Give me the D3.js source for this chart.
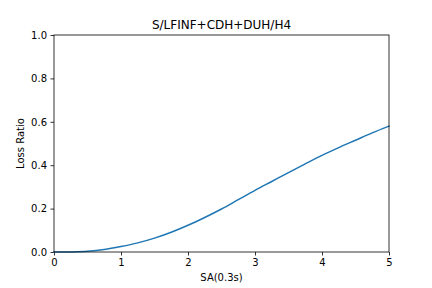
<!DOCTYPE html>
<html><head><meta charset="utf-8">
<script src="https://cdn.jsdelivr.net/npm/d3@7"></script>
<style>body{margin:0;background:#fff}svg{display:block}text{font-family:"DejaVu Sans",sans-serif;fill:#000}</style>
</head><body>
<svg id="c" width="432" height="288"></svg>
<script>
const title = "S/LFINF+CDH+DUH/H4";
const xLabel = "SA(0.3s)";
const yLabel = "Loss Ratio";
const xTicks = [0,1,2,3,4,5];
const yTicks = [0,0.2,0.4,0.6,0.8,1.0];
const sa = [0,0.25,0.5,0.75,1,1.25,1.5,1.75,2,2.25,2.5,2.75,3,3.25,3.5,3.75,4,4.25,4.5,4.75,5];
const lossRatio = [0,0.0004,0.003,0.011,0.025,0.042,0.064,0.091,0.123,0.159,0.198,0.241,0.284,0.325,0.366,0.406,0.445,0.481,0.515,0.549,0.58];

const m = {l:54, r:389, t:35, b:252};
const svg = d3.select("#c");
const x = d3.scaleLinear().domain([0,5]).range([m.l,m.r]);
const y = d3.scaleLinear().domain([0,1]).range([m.b,m.t]);

const xa = svg.append("g").attr("transform",`translate(0,${m.b})`)
  .call(d3.axisBottom(x).tickValues(xTicks).tickFormat(d3.format("d")).tickSizeInner(3.5).tickSizeOuter(0).tickPadding(3.5));
const ya = svg.append("g").attr("transform",`translate(${m.l},0)`)
  .call(d3.axisLeft(y).tickValues(yTicks).tickFormat(d3.format(".1f")).tickSizeInner(3.5).tickSizeOuter(0).tickPadding(3.5));
[xa,ya].forEach(a=>{a.selectAll("text").attr("font-size",10).attr("font-family","DejaVu Sans").attr("fill","#000");
  a.selectAll("line").attr("stroke","#000").attr("stroke-width",0.8);
  a.select(".domain").remove();});

const line = d3.line().x((d,i)=>x(sa[i])).y(d=>y(d)).curve(d3.curveCatmullRom.alpha(0.5));
svg.append("path").datum(lossRatio).attr("d",line).attr("fill","none").attr("stroke","#1f77b4").attr("stroke-width",1.5)
  .attr("stroke-linecap","square");

svg.append("rect").attr("x",m.l).attr("y",m.t).attr("width",m.r-m.l).attr("height",m.b-m.t)
  .attr("fill","none").attr("stroke","#000").attr("stroke-width",0.8);

svg.append("text").attr("x",(m.l+m.r)/2).attr("y",m.t-6).attr("text-anchor","middle").attr("font-size",12).text(title);
svg.append("text").attr("x",(m.l+m.r)/2).attr("y",281).attr("text-anchor","middle").attr("font-size",10).text(xLabel);
svg.append("text").attr("transform",`translate(24,${(m.t+m.b)/2}) rotate(-90)`).attr("text-anchor","middle").attr("font-size",10).text(yLabel);
</script>
</body></html>
